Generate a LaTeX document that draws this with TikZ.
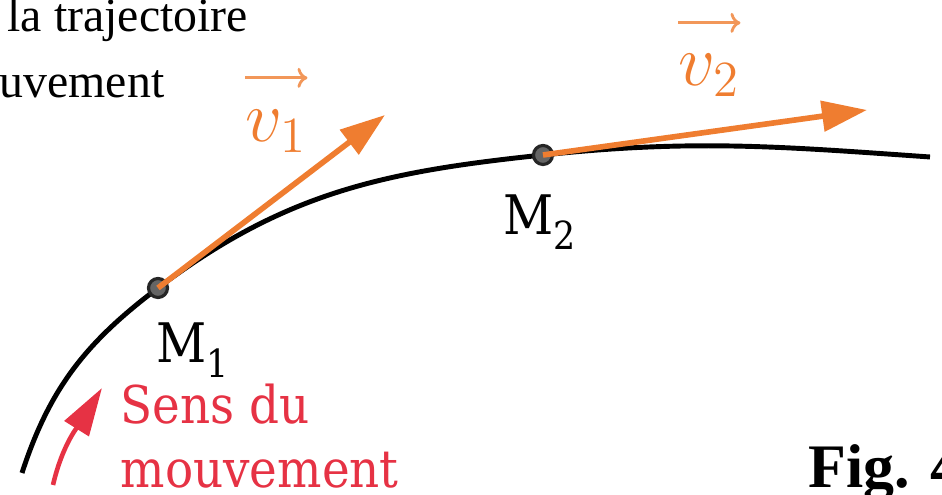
\documentclass[tikz,border=0pt]{standalone}
\usepackage{fontspec}
\setmainfont{Liberation Serif}
\newfontfamily\labelfont[FakeStretch=0.9]{DejaVu Serif}
\usetikzlibrary{arrows.meta}
\definecolor{ink}{HTML}{000000}
\definecolor{vorange}{HTML}{EF7D30}
\definecolor{vred}{HTML}{E63244}
\definecolor{dotgray}{HTML}{656565}
\newcommand{\lowidx}[1]{\raisebox{-0.27em}{\fontsize{11}{11}\selectfont #1}}
\tikzset{
  trajline/.style={line width=1.4pt,draw=ink},
  vecarrow/.style={-{Triangle[length=4.5mm,width=3mm]},line width=1.6pt,draw=vorange},
  sensarrow/.style={-{Triangle[length=4.8mm,width=2.8mm]},line width=1.3pt,draw=vred},
  overarrow/.style={-{To[length=1mm,width=2mm]},line width=0.8pt,draw=vorange!80},
  ptdot/.style={circle,fill=dotgray,draw=ink!85,line width=0.9pt,inner sep=0pt,minimum size=0.19cm},
  ptlabel/.style={font=\labelfont\fontsize{15.5}{18}\selectfont,text=ink,inner sep=0pt},
  veclabel/.style={font=\fontsize{20}{24}\selectfont,text=vorange,inner sep=0pt},
  toptext/.style={font=\fontsize{13.6}{16}\selectfont,text=ink,inner sep=0pt}
}
\begin{document}
\begin{tikzpicture}[
    x=0.01cm,y=0.01cm,
    senstext/.style={font=\labelfont\fontsize{14.8}{18.4}\selectfont,text=vred,align=left,inner sep=0pt},
    figlabel/.style={font=\bfseries\fontsize{17.6}{20}\selectfont,text=ink,inner sep=0pt}
  ]
  \clip (0,0) rectangle (942,495);

  % trajectoire
  \coordinate (start) at (22,22);
  \coordinate (pm1) at (158,207);
  \coordinate (pm2) at (543,340);
  \coordinate (end) at (930,338);
  \draw[trajline] (start) to[out=72,in=217] (pm1) to[out=37,in=186] (pm2) to[out=6,in=176] (end);

  \node[ptdot] (m1) at (pm1) {};
  \node[ptdot] (m2) at (pm2) {};

  % vecteurs vitesse
  \coordinate (tip1) at (385,380);
  \coordinate (tip2) at (867,385);
  \draw[vecarrow] (m1.center) -- (tip1);
  \draw[vecarrow] (m2.center) -- (tip2);

  \node[veclabel,anchor=base west] (v1) at (245,353) {$v_1$};
  \draw[overarrow] ([yshift=0.32cm]v1.north west) -- ([yshift=0.32cm]v1.north east);
  \node[veclabel,anchor=base west] (v2) at (678,409) {$v_2$};
  \draw[overarrow] ([yshift=0.31cm]v2.north west) -- ([yshift=0.31cm]v2.north east);

  \node[ptlabel,anchor=base west] (m1lab) at (156,132) {M\lowidx{1}};
  \node[ptlabel,anchor=base west] (m2lab) at (503,260) {M\lowidx{2}};

  % sens du mouvement
  \node[senstext,anchor=north west] (sens) at (120,112) {Sens du\\mouvement};
  \coordinate (tail) at (53,10);
  \coordinate (head) at (102,107);
  \draw[sensarrow] (tail) to[out=77,in=238] (head);

  % textes
  \node[toptext,anchor=base west] (trajtxt) at (7,463) {la trajectoire};
  \node[toptext,anchor=base west] (mvttxt) at (-1,397) {uvement};
  \node[figlabel,anchor=base west] (fig) at (808,7) {Fig. 4};
\end{tikzpicture}
\end{document}
